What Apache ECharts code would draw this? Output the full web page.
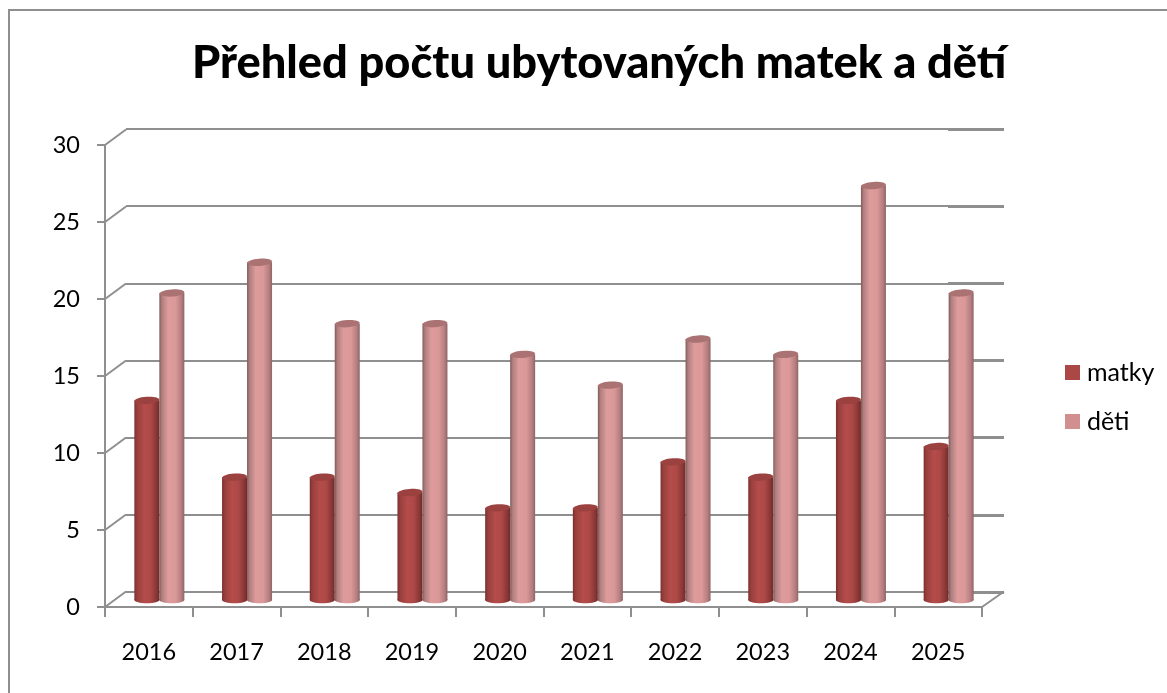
<!DOCTYPE html>
<html><head><meta charset="utf-8">
<style>html,body{margin:0;padding:0;background:#fff}#c{width:1167px;height:693px}</style>
<script src="https://cdn.jsdelivr.net/npm/echarts@6/dist/echarts.min.js"></script>
</head><body><div id="c"></div>
<script>
const titleText = 'Přehled počtu ubytovaných matek a dětí';
const years = ['2016','2017','2018','2019','2020','2021','2022','2023','2024','2025'];
const matky = [13,8,8,7,6,6,9,8,13,10];
const deti = [20,22,18,18,16,14,17,16,27,20];
const yTicks = [0,5,10,15,20,25,30];

const FONT = 'Lato, "Open Sans", sans-serif';
const GREY = '#8f8f8f';
const BAR_W = 25;
function grad(stops){return {type:'linear',x:0,y:0,x2:1,y2:0,colorStops:stops.map(s=>({offset:s[0],color:s[1]}))};}
const redGrad = grad([[0,'#7c302e'],[0.12,'#99403e'],[0.4,'#b44c4a'],[0.65,'#ad4947'],[0.88,'#8a3735'],[1,'#702a28']]);
const pinkGrad = grad([[0,'#7f5a5a'],[0.1,'#b07e7e'],[0.35,'#dd9b9c'],[0.65,'#da9899'],[0.88,'#b57e7f'],[1,'#8f6465']]);

function caps(name, values, sign, topColor, bottomGrad){
  return {
    type:'custom', name:name+' caps', xAxisIndex:2, yAxisIndex:2, z:5, silent:true,
    data: values.map((v,i)=>[i,v]),
    renderItem(params, api){
      const top = api.coord([api.value(0), api.value(1)]);
      const base = api.coord([api.value(0), 0]);
      const cx = top[0] + sign*BAR_W/2;
      return {type:'group', children:[
        {type:'ellipse', shape:{cx:cx, cy:base[1], rx:BAR_W/2, ry:3.2}, style:{fill:bottomGrad}},
        {type:'ellipse', shape:{cx:cx, cy:top[1], rx:BAR_W/2, ry:3.6}, rotation:0.07, originX:cx, originY:top[1], style:{fill:topColor}}
      ]};
    }
  };
}

const chart = echarts.init(document.getElementById('c'), null, {renderer:'canvas'});
chart.setOption({
  animation:false,
  backgroundColor:'#fff',
  title:{text:titleText,left:187,top:36,textStyle:{fontFamily:FONT,fontSize:45.2,fontWeight:900,color:'#000'}},
  legend:{
    orient:'vertical',left:1060,top:355,itemWidth:15,itemHeight:15,itemGap:24,icon:'rect',
    textStyle:{fontFamily:FONT,fontSize:25,color:'#000',padding:[0,0,0,2]},
    data:[{name:'matky',itemStyle:{color:'#ab4745'}},{name:'děti',itemStyle:{color:'#d1908f'}}]
  },
  grid:[
    {left:126,width:878,top:129,height:463},
    {left:105,width:877,top:145,height:462},
    {left:115.5,width:877,top:139.5,height:460.5},
    {left:948,width:56,top:129,height:463}
  ],
  xAxis:[
    {gridIndex:0,type:'category',data:years,show:false},
    {gridIndex:1,type:'category',data:years,
      axisLine:{show:true,lineStyle:{color:GREY,width:2}},
      axisTick:{show:true,alignWithLabel:false,length:10,lineStyle:{color:GREY,width:2}},
      axisLabel:{margin:33,fontFamily:FONT,fontSize:23.5,color:'#000'}},
    {gridIndex:2,type:'category',data:years,show:false},
    {gridIndex:3,type:'category',data:years,show:false}
  ],
  yAxis:[
    {gridIndex:0,type:'value',min:0,max:30,interval:5,axisLine:{show:false},axisTick:{show:false},axisLabel:{show:false},
      splitLine:{show:true,lineStyle:{color:GREY,width:2}}},
    {gridIndex:1,type:'value',min:0,max:30,interval:5,
      axisLine:{show:true,lineStyle:{color:GREY,width:2}},
      axisTick:{show:true,length:8,lineStyle:{color:GREY,width:2}},
      axisLabel:{margin:25,fontFamily:FONT,fontSize:23.5,color:'#000',padding:[4,0,0,0]},
      splitLine:{show:false}},
    {gridIndex:2,type:'value',min:0,max:30,interval:5,show:false,splitLine:{show:false}},
    {gridIndex:3,type:'value',min:0,max:30,interval:5,axisLine:{show:false},axisTick:{show:false},axisLabel:{show:false},
      splitLine:{show:true,lineStyle:{color:GREY,width:3}}}
  ],
  series:[
    {type:'custom',name:'connectors',xAxisIndex:1,yAxisIndex:1,z:1,silent:true,
      data:yTicks.map(v=>[0,v]),
      renderItem(params,api){
        const y = api.coord([0,api.value(1)])[1];
        const x0 = params.coordSys.x;
        const kids = [{type:'line',shape:{x1:x0,y1:y,x2:x0+21,y2:y-15.5},style:{stroke:GREY,lineWidth:2}}];
        if(api.value(1)===0){
          const x1 = x0+params.coordSys.width;
          kids.push({type:'line',shape:{x1:x1,y1:y,x2:x1+22,y2:y-15.5},style:{stroke:GREY,lineWidth:2}});
        }
        return {type:'group',children:kids};
      }},
    {type:'bar',name:'matky',xAxisIndex:2,yAxisIndex:2,data:matky,barWidth:BAR_W,barGap:0,z:3,itemStyle:{color:redGrad}},
    {type:'bar',name:'děti',xAxisIndex:2,yAxisIndex:2,data:deti,barWidth:BAR_W,barGap:0,z:4,itemStyle:{color:pinkGrad}},
    caps('matky',matky,-1,'#9b4240',redGrad),
    caps('děti',deti,1,'#ab7273',pinkGrad)
  ],
  graphic:[
    {type:'line',z:0,shape:{x1:9,y1:10,x2:1167,y2:10},style:{stroke:GREY,lineWidth:2}},
    {type:'line',z:0,shape:{x1:9,y1:9,x2:9,y2:693},style:{stroke:GREY,lineWidth:2}}
  ]
});
</script></body></html>
